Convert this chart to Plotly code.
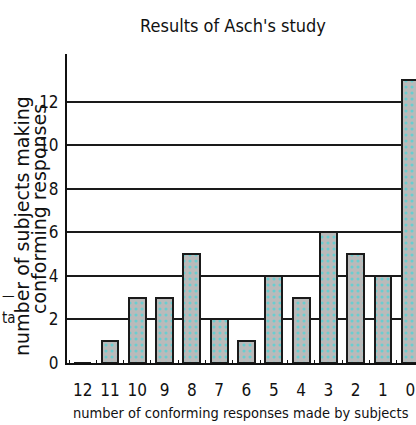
import plotly.graph_objects as go

# Data
categories = ["12", "11", "10", "9", "8", "7", "6", "5", "4", "3", "2", "1", "0"]
subjects = [0, 1, 3, 3, 5, 2, 1, 4, 3, 6, 5, 4, 13]
y_ticks = [0, 2, 4, 6, 8, 10, 12]

W, H = 416, 425
L, R, T, B = 67, 0, 54, 62
pw, ph = W - L - R, H - T - B

def px(x):
    return (x - L) / pw

def py(y):
    return (H - B - y) / ph

positions = list(range(len(categories)))

NARROW = "Liberation Sans Narrow, DejaVu Sans Condensed, sans-serif"
WIDE = "DejaVu Sans, Verdana, sans-serif"

fig = go.Figure()
fig.add_trace(go.Bar(
    x=positions,
    y=subjects,
    width=0.62,
    marker=dict(
        color="#bababa",
        line=dict(color="#1a1a1a", width=2),
        pattern=dict(shape=".", fgcolor="#19dfe6", bgcolor="#bababa",
                     size=6, solidity=0.22),
    ),
    hoverinfo="skip",
))

fig.update_layout(
    width=W, height=H,
    margin=dict(l=L, r=R, t=T, b=B, pad=0),
    paper_bgcolor="white",
    plot_bgcolor="white",
    showlegend=False,
    bargap=0,
    title=dict(
        text="Results of Asch's study",
        font=dict(family=NARROW, size=18, color="#111"),
        x=233 / W, xanchor="center", xref="container",
        y=1 - 26 / H, yanchor="middle", yref="container",
    ),
    xaxis=dict(
        range=[-0.575, 12.21],
        tickmode="array",
        tickvals=positions,
        ticktext=categories,
        ticks="",
        ticklabelstandoff=11,
        tickfont=dict(family=NARROW, size=17, color="#111"),
        showgrid=False,
        zeroline=False,
        showline=True, linecolor="#111", linewidth=2,
        minor=dict(ticks="inside", ticklen=3, tickcolor="#111",
                   tickmode="linear", tick0=-0.5, dtick=1, showgrid=False),
    ),
    yaxis=dict(
        range=[0, 14.2],
        tickmode="array",
        tickvals=y_ticks,
        ticks="",
        ticklabelstandoff=3,
        tickfont=dict(family=NARROW, size=17, color="#111"),
        showgrid=True, gridcolor="#1a1a1a", gridwidth=2,
        zeroline=False,
        showline=True, linecolor="#111", linewidth=2,
    ),
)

annotations = [
    dict(text="number of conforming responses made by subjects",
         x=px(241), y=py(413), font=dict(family=NARROW, size=14.5, color="#111")),
    dict(text="number of subjects making", textangle=-90,
         x=px(22), y=py(226), font=dict(family=WIDE, size=19, color="#111")),
    dict(text="conforming responses", textangle=-90,
         x=px(39), y=py(209), font=dict(family=WIDE, size=19, color="#111")),
]
for a in annotations:
    fig.add_annotation(xref="paper", yref="paper", showarrow=False,
                       xanchor="center", yanchor="middle", **a)

# page fragment visible at the left edge
fig.add_annotation(text="ta", xref="paper", yref="paper", x=px(0), y=py(318),
                   xanchor="left", yanchor="middle", showarrow=False,
                   font=dict(family=NARROW, size=15, color="#111"))
fig.add_annotation(text="\u2014", xref="paper", yref="paper", x=px(0), y=py(295),
                   xanchor="left", yanchor="middle", showarrow=False,
                   font=dict(family=NARROW, size=14, color="#111"))

fig.write_html("out.html", config={"displayModeBar": False},
               post_script="document.body.style.margin='0';")
